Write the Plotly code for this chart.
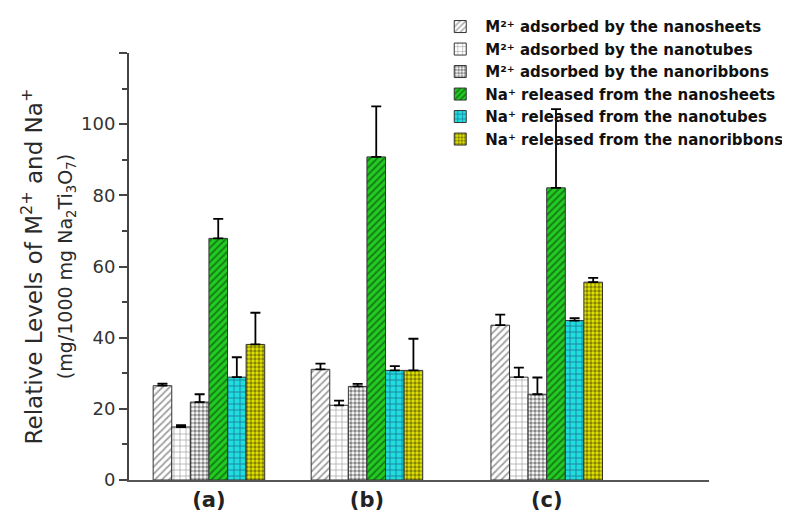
import plotly.graph_objects as go

groups = ["(a)", "(b)", "(c)"]
group_pos = [4.3, 12.8, 22.47]

series_names = [
    "M²⁺ adsorbed by the nanosheets",
    "M²⁺ adsorbed by the nanotubes",
    "M²⁺ adsorbed by the nanoribbons",
    "Na⁺ released from the nanosheets",
    "Na⁺ released from the nanotubes",
    "Na⁺ released from the nanoribbons",
]

m_sheets = [26.5, 31.1, 43.5]
m_tubes = [14.9, 21.0, 28.9]
m_ribbons = [21.9, 26.3, 24.1]
na_sheets = [67.9, 90.8, 82.1]
na_tubes = [28.9, 30.8, 44.8]
na_ribbons = [38.1, 30.8, 55.6]

err_m_sheets = [0.6, 1.6, 3.0]
err_m_tubes = [0.5, 1.3, 2.7]
err_m_ribbons = [2.2, 0.7, 4.7]
err_na_sheets = [5.5, 14.2, 22.1]
err_na_tubes = [5.6, 1.2, 0.7]
err_na_ribbons = [8.9, 8.9, 1.2]

values = [m_sheets, m_tubes, m_ribbons, na_sheets, na_tubes, na_ribbons]
errors = [err_m_sheets, err_m_tubes, err_m_ribbons, err_na_sheets, err_na_tubes, err_na_ribbons]

styles = [
    dict(color="white", shape="/", fg="#444444", size=5, solidity=0.35),
    dict(color="white", shape="+", fg="#333333", size=6, solidity=0.2),
    dict(color="white", shape=".", fg="#111111", size=4, solidity=0.6),
    dict(color="#22cc22", shape="/", fg="#0a300a", size=5, solidity=0.4),
    dict(color="#22dddd", shape="+", fg="#102060", size=6, solidity=0.28),
    dict(color="#e6e600", shape=".", fg="#222200", size=4, solidity=0.55),
]

FONT = "DejaVu Sans, Liberation Sans, Arial, sans-serif"

fig = go.Figure()
for i, (name, vals, errs, st) in enumerate(zip(series_names, values, errors, styles)):
    xs = [g + (i - 2.5) * 1.0 for g in group_pos]
    fig.add_trace(go.Bar(
        x=xs, y=vals, name=name, width=1.0,
        marker=dict(
            color=st["color"],
            line=dict(color="#333333", width=1),
            pattern=dict(shape=st["shape"], fgcolor=st["fg"], size=st["size"], solidity=st["solidity"]),
        ),
        error_y=dict(type="data", array=errs, arrayminus=[0] * len(errs), symmetric=False,
                     color="black", thickness=1.8, width=5),
    ))

fig.update_layout(
    width=782, height=509,
    margin=dict(l=121, r=81, t=45, b=37, autoexpand=False),
    paper_bgcolor="white", plot_bgcolor="white",
    barmode="overlay",
    showlegend=True,
    font=dict(family=FONT, color="#222222"),
    legend=dict(
        x=0.528, y=1.10, xanchor="left", yanchor="top",
        font=dict(size=15, family=FONT, color="#111111", weight="bold"),
        tracegroupgap=0, itemwidth=40, bgcolor="rgba(0,0,0,0)",
        traceorder="normal",
    ),
    xaxis=dict(
        range=[0, 31.2],
        tickvals=group_pos, ticktext=groups,
        tickfont=dict(size=21, family=FONT, color="#222222", weight="bold"),
        showline=True, linecolor="#555555", linewidth=2,
        ticks="", showgrid=False, zeroline=False,
    ),
    yaxis=dict(
        range=[0, 120],
        tickvals=[0, 20, 40, 60, 80, 100, 120],
        ticktext=["0", "20", "40", "60", "80", "100", ""],
        tickfont=dict(size=18, family=FONT, color="#333333"),
        ticks="outside", ticklen=8, tickwidth=1.5, tickcolor="#444444",
        minor=dict(tickvals=[10, 30, 50, 70, 90, 110], ticks="outside", ticklen=5, tickwidth=1.5, tickcolor="#444444"),
        showline=True, linecolor="#444444", linewidth=2,
        showgrid=False, zeroline=False,
        title=dict(
            text="Relative Levels of M<sup>2+</sup> and Na<sup>+</sup><br><span style='font-size:19px'>(mg/1000 mg Na<sub>2</sub>Ti<sub>3</sub>O<sub>7</sub>)</span>",
            font=dict(size=23, family=FONT, color="#2a2a2a"),
            standoff=2,
        ),
    ),
)

fig.write_html("out.html")
